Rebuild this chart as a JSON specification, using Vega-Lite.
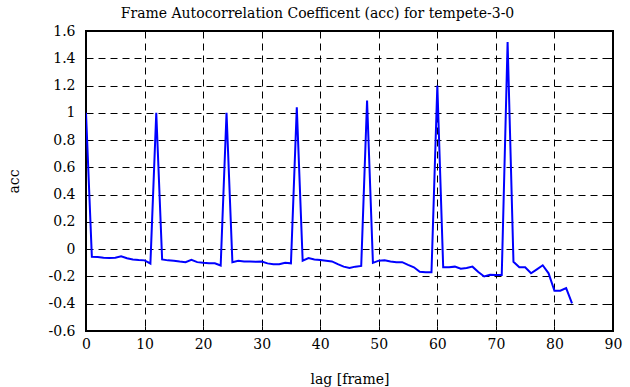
{
  "$schema": "https://vega.github.io/schema/vega-lite/v6.json",
  "autosize": "none",
  "width": 527,
  "height": 300,
  "padding": {"left": 86, "top": 31, "right": 17, "bottom": 56},
  "background": "white",
  "config": {
    "font": "DejaVu Serif",
    "view": {"stroke": "black", "strokeWidth": 2},
    "axis": {
      "labelFont": "DejaVu Serif",
      "titleFont": "DejaVu Serif",
      "labelFontSize": 14,
      "titleFontSize": 14,
      "labelColor": "black",
      "titleColor": "black",
      "titleFontWeight": "normal",
      "domain": false,
      "grid": true,
      "gridColor": "black",
      "gridDash": [7, 5],
      "gridWidth": 1,
      "gridOpacity": 1,
      "tickColor": "black",
      "tickWidth": 1,
      "tickSize": -5
    }
  },
  "title": {
    "text": "Frame Autocorrelation Coefficent (acc) for tempete-3-0",
    "font": "DejaVu Serif",
    "fontSize": 14,
    "fontWeight": "normal",
    "color": "black",
    "anchor": "middle",
    "dx": -32,
    "baseline": "alphabetic",
    "offset": 17,
    "dy": 25
  },
  "data": {
    "values": [
      {"lag": 0, "acc": 1.0}, {"lag": 1, "acc": -0.055}, {"lag": 2, "acc": -0.057}, {"lag": 3, "acc": -0.062},
      {"lag": 4, "acc": -0.065}, {"lag": 5, "acc": -0.062}, {"lag": 6, "acc": -0.052}, {"lag": 7, "acc": -0.067},
      {"lag": 8, "acc": -0.075}, {"lag": 9, "acc": -0.08}, {"lag": 10, "acc": -0.082}, {"lag": 11, "acc": -0.105},
      {"lag": 12, "acc": 1.0}, {"lag": 13, "acc": -0.075}, {"lag": 14, "acc": -0.082}, {"lag": 15, "acc": -0.084},
      {"lag": 16, "acc": -0.09}, {"lag": 17, "acc": -0.095}, {"lag": 18, "acc": -0.078}, {"lag": 19, "acc": -0.095},
      {"lag": 20, "acc": -0.1}, {"lag": 21, "acc": -0.104}, {"lag": 22, "acc": -0.104}, {"lag": 23, "acc": -0.12},
      {"lag": 24, "acc": 1.0}, {"lag": 25, "acc": -0.095}, {"lag": 26, "acc": -0.085}, {"lag": 27, "acc": -0.09},
      {"lag": 28, "acc": -0.09}, {"lag": 29, "acc": -0.093}, {"lag": 30, "acc": -0.09}, {"lag": 31, "acc": -0.104},
      {"lag": 32, "acc": -0.111}, {"lag": 33, "acc": -0.111}, {"lag": 34, "acc": -0.1}, {"lag": 35, "acc": -0.104},
      {"lag": 36, "acc": 1.04}, {"lag": 37, "acc": -0.084}, {"lag": 38, "acc": -0.065}, {"lag": 39, "acc": -0.075},
      {"lag": 40, "acc": -0.08}, {"lag": 41, "acc": -0.085}, {"lag": 42, "acc": -0.09}, {"lag": 43, "acc": -0.11},
      {"lag": 44, "acc": -0.128}, {"lag": 45, "acc": -0.138}, {"lag": 46, "acc": -0.128}, {"lag": 47, "acc": -0.123},
      {"lag": 48, "acc": 1.09}, {"lag": 49, "acc": -0.1}, {"lag": 50, "acc": -0.084}, {"lag": 51, "acc": -0.082},
      {"lag": 52, "acc": -0.09}, {"lag": 53, "acc": -0.095}, {"lag": 54, "acc": -0.095}, {"lag": 55, "acc": -0.115},
      {"lag": 56, "acc": -0.133}, {"lag": 57, "acc": -0.165}, {"lag": 58, "acc": -0.17}, {"lag": 59, "acc": -0.17},
      {"lag": 60, "acc": 1.2}, {"lag": 61, "acc": -0.133}, {"lag": 62, "acc": -0.133}, {"lag": 63, "acc": -0.128},
      {"lag": 64, "acc": -0.143}, {"lag": 65, "acc": -0.138}, {"lag": 66, "acc": -0.128}, {"lag": 67, "acc": -0.167},
      {"lag": 68, "acc": -0.2}, {"lag": 69, "acc": -0.187}, {"lag": 70, "acc": -0.19}, {"lag": 71, "acc": -0.19},
      {"lag": 72, "acc": 1.52}, {"lag": 73, "acc": -0.092}, {"lag": 74, "acc": -0.133}, {"lag": 75, "acc": -0.133},
      {"lag": 76, "acc": -0.177}, {"lag": 77, "acc": -0.148}, {"lag": 78, "acc": -0.118}, {"lag": 79, "acc": -0.177},
      {"lag": 80, "acc": -0.305}, {"lag": 81, "acc": -0.305}, {"lag": 82, "acc": -0.285}, {"lag": 83, "acc": -0.397}
    ]
  },
  "layer": [
    {
      "mark": {"type": "line", "color": "#0000ff", "strokeWidth": 2, "clip": true},
      "encoding": {
        "x": {
          "field": "lag", "type": "quantitative",
          "scale": {"domain": [0, 90], "nice": false, "zero": false},
          "axis": {
            "orient": "bottom",
            "title": "lag [frame]",
            "labelFont": "DejaVu Serif",
            "titleFont": "DejaVu Serif",
            "labelFontSize": 14,
            "titleFontSize": 14,
            "values": [0, 10, 20, 30, 40, 50, 60, 70, 80, 90],
            "labelPadding": 11,
            "labelFlush": false,
            "titleBaseline": "alphabetic",
            "titleX": 263.5,
            "titleY": 52,
            "titleAnchor": "middle"
          }
        },
        "y": {
          "field": "acc", "type": "quantitative",
          "scale": {"domain": [-0.6, 1.6], "nice": false, "zero": false},
          "axis": {
            "orient": "left",
            "title": "acc",
            "labelFont": "DejaVu Serif",
            "titleFont": "DejaVu Serif",
            "labelFontSize": 14,
            "titleFontSize": 14,
            "values": [-0.6, -0.4, -0.2, 0, 0.2, 0.4, 0.6, 0.8, 1, 1.2, 1.4, 1.6],
            "labelExpr": "'' + round(datum.value * 10) / 10",
            "labelPadding": 16,
            "labelFlush": false,
            "titleAngle": -90,
            "titleBaseline": "alphabetic",
            "titleX": -68,
            "titleY": 150,
            "titleAnchor": "middle"
          }
        }
      }
    },
    {
      "mark": {"type": "point", "opacity": 0},
      "encoding": {
        "x": {
          "field": "lag", "type": "quantitative",
          "axis": {"orient": "top", "title": null, "labels": false, "grid": false,
                   "values": [0, 10, 20, 30, 40, 50, 60, 70, 80, 90]}
        },
        "y": {
          "field": "acc", "type": "quantitative",
          "axis": {"orient": "right", "title": null, "labels": false, "grid": false,
                   "values": [-0.6, -0.4, -0.2, 0, 0.2, 0.4, 0.6, 0.8, 1, 1.2, 1.4, 1.6]}
        }
      }
    }
  ],
  "resolve": {"axis": {"x": "independent", "y": "independent"}}
}
